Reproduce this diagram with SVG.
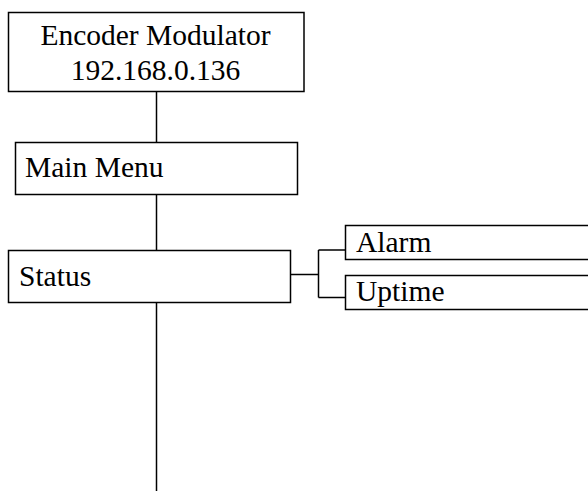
<svg xmlns="http://www.w3.org/2000/svg" width="588" height="491" viewBox="0 0 588 491">
<style>
.box{fill:#fff;stroke:#000;stroke-width:1.5}
.t{font-family:"Liberation Serif","Times New Roman",serif;font-size:29.5px;fill:#000}
.c{fill:none;stroke:#000;stroke-width:1.5}
</style>
<rect width="588" height="491" fill="#fff"/>
<g id="connectors">
<line class="c" x1="156.5" y1="92" x2="156.5" y2="142.5"/>
<line class="c" x1="156.5" y1="194.5" x2="156.5" y2="250.5"/>
<line class="c" x1="156.5" y1="302.5" x2="156.5" y2="491"/>
<path class="c" d="M290.5 274.5 H318.5 M318.5 250 V297.5 M318.5 250 H345.5 M318.5 297.5 H345.5"/>
</g>
<g id="encoder">
<rect class="box" x="8.5" y="12.5" width="295.5" height="79"/>
<text class="t" x="155.5" y="45" text-anchor="middle">Encoder Modulator</text>
<text class="t" x="155.5" y="80" text-anchor="middle">192.168.0.136</text>
</g>
<g id="mainmenu">
<rect class="box" x="15.5" y="142.5" width="282" height="52"/>
<text class="t" x="25" y="177">Main Menu</text>
</g>
<g id="status">
<rect class="box" x="8.5" y="250.5" width="282" height="52"/>
<text class="t" x="19" y="286">Status</text>
</g>
<g id="alarm">
<rect class="box" x="345.5" y="225.5" width="260" height="34"/>
<text class="t" x="356" y="252">Alarm</text>
</g>
<g id="uptime">
<rect class="box" x="345.5" y="275.5" width="260" height="34"/>
<text class="t" x="356" y="301">Uptime</text>
</g>
</svg>
